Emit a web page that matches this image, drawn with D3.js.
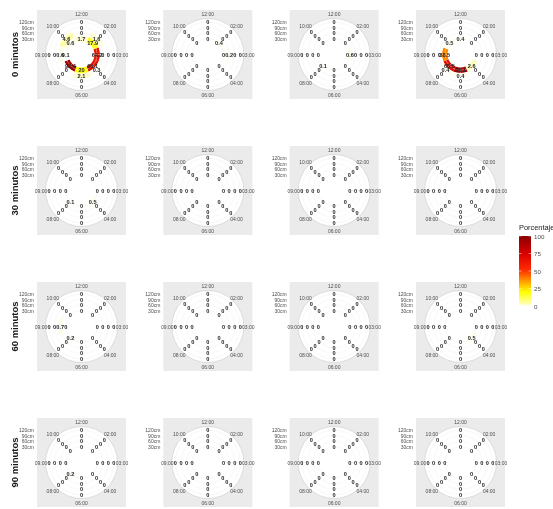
<!DOCTYPE html>
<html>
<head>
<meta charset="utf-8">
<script src="https://cdn.jsdelivr.net/npm/d3@7"></script>
<style>
  body { margin: 0; background: #ffffff; }
  svg { display: block; font-family: "Liberation Sans", Arial, sans-serif; will-change: transform; }
</style>
</head>
<body>
<svg id="chart" width="553" height="509"></svg>
<script>
// Facet rows (time after start) and polar categories
const times = ["0 minutos", "30 minutos", "60 minutos", "90 minutos"];
const directions = ["12:00", "02:00", "03:00", "04:00", "06:00", "08:00", "09:00", "10:00"];
const depths = ["30cm", "60cm", "90cm", "120cm"];
const legendTicks = [0, 25, 50, 75, 100];

// Porcentaje per panel: one entry per direction (same order as `directions`),
// each entry holds the values at 30, 60, 90 and 120 cm.
const min0 = [
  [[1.7, 0, 0, 0], [17.9, 1.6, 0, 0], [64.2, 0, 0, 0], [66.1, 0.3, 0, 0], [20, 2.1, 0, 0], [92.4, 0, 0, 0], [0.1, 0.6, 0, 0], [0.6, 4.6, 0, 0]],
  [[0, 0, 0, 0], [0.4, 0, 0, 0], [0, 0.2, 0, 0], [0, 0, 0, 0], [0, 0, 0, 0], [0, 0, 0, 0], [0, 0, 0, 0], [0, 0, 0, 0]],
  [[0, 0, 0, 0], [0, 0, 0, 0], [0.6, 0, 0, 0], [0, 0, 0, 0], [0, 0, 0, 0], [0.1, 0, 0, 0], [0, 0, 0, 0], [0, 0, 0, 0]],
  [[0.4, 0, 0, 0], [0, 0, 0, 0], [0, 0, 0, 0], [2.6, 0, 0, 0], [86.1, 0.4, 0, 0], [68.5, 0.4, 0, 0], [38.5, 0, 0, 0], [0.5, 0, 0, 0]]
];
const min30 = [
  [[0, 0, 0, 0], [0, 0, 0, 0], [0, 0, 0, 0], [0.5, 0, 0, 0], [0, 0, 0, 0], [0.1, 0, 0, 0], [0, 0, 0, 0], [0, 0, 0, 0]],
  [[0, 0, 0, 0], [0, 0, 0, 0], [0, 0, 0, 0], [0, 0, 0, 0], [0, 0, 0, 0], [0, 0, 0, 0], [0, 0, 0, 0], [0, 0, 0, 0]],
  [[0, 0, 0, 0], [0, 0, 0, 0], [0, 0, 0, 0], [0, 0, 0, 0], [0, 0, 0, 0], [0, 0, 0, 0], [0, 0, 0, 0], [0, 0, 0, 0]],
  [[0, 0, 0, 0], [0, 0, 0, 0], [0, 0, 0, 0], [0, 0, 0, 0], [0, 0, 0, 0], [0, 0, 0, 0], [0, 0, 0, 0], [0, 0, 0, 0]]
];
const min60 = [
  [[0, 0, 0, 0], [0, 0, 0, 0], [0, 0, 0, 0], [0, 0, 0, 0], [0, 0, 0, 0], [0.2, 0, 0, 0], [0, 0.7, 0, 0], [0, 0, 0, 0]],
  [[0, 0, 0, 0], [0, 0, 0, 0], [0, 0, 0, 0], [0, 0, 0, 0], [0, 0, 0, 0], [0, 0, 0, 0], [0, 0, 0, 0], [0, 0, 0, 0]],
  [[0, 0, 0, 0], [0, 0, 0, 0], [0, 0, 0, 0], [0, 0, 0, 0], [0, 0, 0, 0], [0, 0, 0, 0], [0, 0, 0, 0], [0, 0, 0, 0]],
  [[0, 0, 0, 0], [0, 0, 0, 0], [0, 0, 0, 0], [0.5, 0, 0, 0], [0, 0, 0, 0], [0, 0, 0, 0], [0, 0, 0, 0], [0, 0, 0, 0]]
];
const min90 = [
  [[0, 0, 0, 0], [0, 0, 0, 0], [0, 0, 0, 0], [0, 0, 0, 0], [0, 0, 0, 0], [0.2, 0, 0, 0], [0, 0, 0, 0], [0, 0, 0, 0]],
  [[0, 0, 0, 0], [0, 0, 0, 0], [0, 0, 0, 0], [0, 0, 0, 0], [0, 0, 0, 0], [0, 0, 0, 0], [0, 0, 0, 0], [0, 0, 0, 0]],
  [[0, 0, 0, 0], [0, 0, 0, 0], [0, 0, 0, 0], [0, 0, 0, 0], [0, 0, 0, 0], [0, 0, 0, 0], [0, 0, 0, 0], [0, 0, 0, 0]],
  [[0, 0, 0, 0], [0, 0, 0, 0], [0, 0, 0, 0], [0, 0, 0, 0], [0, 0, 0, 0], [0, 0, 0, 0], [0, 0, 0, 0], [0, 0, 0, 0]]
];
const panelsByTime = [min0, min30, min60, min90];

// ---- layout ----
const svg = d3.select("#chart");
const S = 89;                       // panel side
const colX = d3.scaleLinear().domain([0, 3]).range([37, 416]);
const rowY = d3.scaleLinear().domain([0, 3]).range([10, 418]);

const theta = d3.scaleBand().domain(directions)
  .range([-Math.PI / 8, 2 * Math.PI - Math.PI / 8]);
const radius = d3.scaleBand().domain(depths).range([13, 35.2]);
const rOuter = 36;
const rLabel = 40.5;

const fill = d3.scaleLinear()
  .domain([0, 3, 20, 32, 52, 75, 100])
  .range(["#ffffff", "#ffffb0", "#ffff00", "#ffb400", "#ff2a00", "#d90000", "#8b0000"])
  .clamp(true);

const arc = d3.arc();
const polar = (a, r) => [r * Math.sin(a), -r * Math.cos(a)];
const mid = d => theta(d) + theta.bandwidth() / 2;
const rMid = d => radius(d) + radius.bandwidth() / 2;

panelsByTime.forEach((row, ri) => {
  // facet label on the left
  svg.append("text")
    .attr("transform", `translate(14,${rowY(ri) + S / 2}) rotate(-90)`)
    .attr("text-anchor", "middle")
    .attr("dominant-baseline", "central")
    .attr("font-size", 9.5)
    .attr("font-weight", "bold")
    .attr("fill", "#1a1a1a")
    .text(times[ri]);

  row.forEach((panel, ci) => {
    const g = svg.append("g").attr("transform", `translate(${colX(ci)},${rowY(ri)})`);
    g.append("rect").attr("width", S).attr("height", S).attr("fill", "#ebebeb");

    // radial axis labels
    g.selectAll("text.ry").data(depths).join("text")
      .attr("class", "ry")
      .attr("x", -3)
      .attr("y", d => S / 2 - rMid(d))
      .attr("text-anchor", "end")
      .attr("dominant-baseline", "central")
      .attr("font-size", 5)
      .attr("fill", "#4d4d4d")
      .text(d => d);

    const c = g.append("g").attr("transform", `translate(${S / 2},${S / 2})`);
    c.append("circle").attr("r", rOuter).attr("fill", "#ffffff");

    const cells = [];
    directions.forEach((dir, di) => depths.forEach((dep, ki) => {
      cells.push({ dir, dep, v: panel[di][ki] });
    }));

    c.selectAll("path.tile").data(cells).join("path")
      .attr("class", "tile")
      .attr("d", d => arc({
        innerRadius: radius(d.dep),
        outerRadius: radius(d.dep) + radius.bandwidth(),
        startAngle: theta(d.dir),
        endAngle: theta(d.dir) + theta.bandwidth()
      }))
      .attr("fill", d => fill(d.v));

    // grid: rings and spokes
    c.selectAll("circle.ring").data(depths).join("circle")
      .attr("class", "ring")
      .attr("r", d => rMid(d))
      .attr("fill", "none")
      .attr("stroke", "#ebebeb")
      .attr("stroke-width", 0.4);
    c.selectAll("line.spoke").data(directions).join("line")
      .attr("class", "spoke")
      .attr("x1", d => polar(mid(d), radius.range()[0])[0])
      .attr("y1", d => polar(mid(d), radius.range()[0])[1])
      .attr("x2", d => polar(mid(d), rOuter)[0])
      .attr("y2", d => polar(mid(d), rOuter)[1])
      .attr("stroke", "#ebebeb")
      .attr("stroke-width", 0.4);
    c.append("circle").attr("r", rOuter)
      .attr("fill", "none").attr("stroke", "#c4c4c4").attr("stroke-width", 0.5);

    // value labels
    c.selectAll("text.val").data(cells).join("text")
      .attr("class", "val")
      .attr("x", d => polar(mid(d.dir), rMid(d.dep))[0])
      .attr("y", d => polar(mid(d.dir), rMid(d.dep))[1])
      .attr("text-anchor", "middle")
      .attr("dominant-baseline", "central")
      .attr("font-size", 5.6)
      .attr("font-weight", "bold")
      .attr("fill", "#262626")
      .text(d => String(d.v));

    // direction labels
    c.selectAll("text.dir").data(directions).join("text")
      .attr("class", "dir")
      .attr("x", d => polar(mid(d), rLabel)[0])
      .attr("y", d => polar(mid(d), rLabel)[1])
      .attr("text-anchor", "middle")
      .attr("dominant-baseline", "central")
      .attr("font-size", 5)
      .attr("fill", "#4d4d4d")
      .text(d => d);
  });
});

// ---- colour bar legend ----
const lg = svg.append("g").attr("transform", "translate(519,0)");
lg.append("text").attr("x", 0).attr("y", 230)
  .attr("font-size", 7.4).attr("fill", "#1a1a1a").text("Porcentaje");
const ly = d3.scaleLinear().domain([0, 100]).range([306, 236]);
const grad = svg.append("defs").append("linearGradient")
  .attr("id", "pctGrad").attr("x1", 0).attr("y1", 1).attr("x2", 0).attr("y2", 0);
d3.range(0, 101, 2).forEach(v => {
  grad.append("stop").attr("offset", `${v}%`).attr("stop-color", fill(v));
});
lg.append("rect").attr("x", 0).attr("y", ly(100)).attr("width", 12)
  .attr("height", ly(0) - ly(100)).attr("fill", "url(#pctGrad)");
lg.selectAll("line.tk").data(legendTicks).join("line")
  .attr("class", "tk")
  .attr("x1", 0).attr("x2", 2.4)
  .attr("y1", d => ly(d)).attr("y2", d => ly(d))
  .attr("stroke", "#ffffff").attr("stroke-width", 0.5);
lg.selectAll("line.tk2").data(legendTicks).join("line")
  .attr("class", "tk2")
  .attr("x1", 9.6).attr("x2", 12)
  .attr("y1", d => ly(d)).attr("y2", d => ly(d))
  .attr("stroke", "#ffffff").attr("stroke-width", 0.5);
lg.selectAll("text.tl").data(legendTicks).join("text")
  .attr("class", "tl")
  .attr("x", 15).attr("y", d => ly(d))
  .attr("dominant-baseline", "central")
  .attr("font-size", 6.2).attr("fill", "#4d4d4d")
  .text(d => d);
</script>
</body>
</html>
